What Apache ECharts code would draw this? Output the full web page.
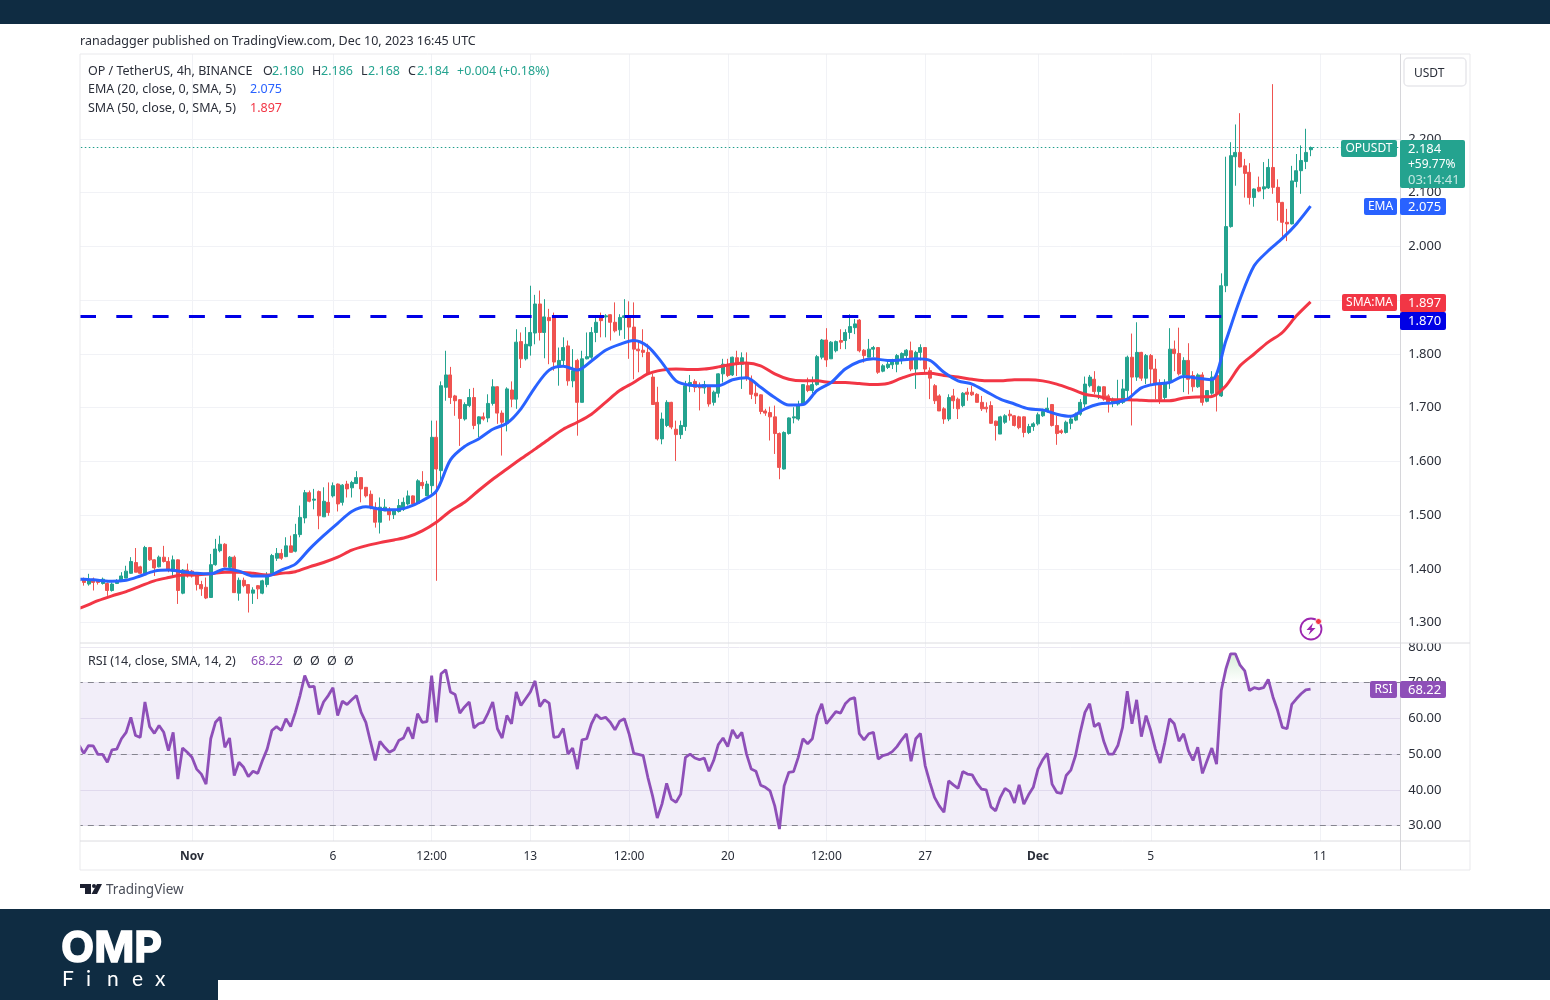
<!DOCTYPE html>
<html>
<head>
<meta charset="utf-8">
<title>OPUSDT 4h</title>
<style>
html, body {margin: 0; padding: 0; background: #fff;}
#contain {width: 1550px; height: 1000px;}
</style>
<script src="https://cdn.jsdelivr.net/npm/echarts@6/dist/echarts.min.js"></script>
</head>
<body>
<div id="contain"></div>
<script>
// one row per 4h bar: open, close, low, high
var candles = [
[1.380,1.378,1.374,1.383],
[1.381,1.375,1.369,1.384],[1.372,1.379,1.369,1.391],[1.381,1.375,1.360,1.384],[1.379,1.375,1.371,1.381],[1.373,1.381,1.371,1.384],
[1.373,1.360,1.350,1.375],[1.360,1.372,1.358,1.375],[1.373,1.378,1.372,1.381],[1.378,1.387,1.377,1.394],[1.383,1.396,1.383,1.406],
[1.392,1.414,1.391,1.422],[1.412,1.394,1.394,1.439],[1.404,1.392,1.391,1.406],[1.389,1.440,1.387,1.443],[1.440,1.417,1.415,1.441],
[1.417,1.402,1.387,1.418],[1.404,1.422,1.403,1.425],[1.422,1.414,1.412,1.443],[1.414,1.397,1.394,1.422],[1.396,1.417,1.384,1.425],
[1.417,1.360,1.335,1.418],[1.355,1.398,1.353,1.400],[1.398,1.387,1.384,1.410],[1.396,1.387,1.384,1.398],[1.389,1.371,1.360,1.391],
[1.371,1.363,1.350,1.378],[1.366,1.346,1.344,1.384],[1.347,1.408,1.346,1.428],[1.408,1.437,1.406,1.456],[1.434,1.446,1.431,1.462],
[1.446,1.404,1.403,1.448],[1.403,1.422,1.400,1.424],[1.422,1.356,1.356,1.425],[1.355,1.379,1.341,1.384],[1.379,1.369,1.366,1.384],
[1.371,1.355,1.319,1.372],[1.355,1.361,1.335,1.366],[1.369,1.363,1.344,1.370],[1.355,1.378,1.353,1.380],[1.371,1.389,1.366,1.394],
[1.391,1.425,1.387,1.428],[1.420,1.429,1.415,1.439],[1.429,1.420,1.417,1.437],[1.423,1.443,1.422,1.459],[1.443,1.431,1.431,1.462],
[1.433,1.464,1.431,1.484],[1.464,1.496,1.459,1.518],[1.495,1.542,1.485,1.547],[1.542,1.526,1.524,1.546],[1.528,1.530,1.511,1.549],
[1.544,1.499,1.474,1.546],[1.497,1.526,1.497,1.552],[1.524,1.505,1.499,1.561],[1.536,1.555,1.533,1.561],[1.558,1.521,1.507,1.559],
[1.524,1.556,1.518,1.558],[1.558,1.549,1.533,1.564],[1.551,1.561,1.533,1.564],[1.559,1.570,1.558,1.582],[1.570,1.549,1.524,1.570],
[1.552,1.536,1.533,1.552],[1.539,1.515,1.511,1.546],[1.511,1.487,1.477,1.524],[1.487,1.515,1.466,1.533],[1.508,1.515,1.508,1.530],
[1.511,1.501,1.490,1.515],[1.501,1.508,1.493,1.511],[1.507,1.518,1.505,1.530],[1.511,1.524,1.508,1.533],[1.521,1.536,1.518,1.546],
[1.536,1.521,1.521,1.537],[1.522,1.564,1.521,1.567],[1.561,1.555,1.549,1.582],[1.536,1.558,1.536,1.564],[1.555,1.645,1.540,1.676],
[1.645,1.586,1.378,1.676],[1.583,1.741,1.560,1.749],[1.738,1.761,1.713,1.806],[1.761,1.719,1.707,1.776],[1.722,1.713,1.685,1.724],
[1.715,1.680,1.629,1.716],[1.679,1.706,1.676,1.710],[1.704,1.719,1.701,1.735],[1.719,1.667,1.660,1.737],[1.670,1.683,1.645,1.684],
[1.683,1.679,1.676,1.691],[1.681,1.708,1.673,1.725],[1.708,1.739,1.704,1.753],[1.739,1.690,1.670,1.740],[1.690,1.673,1.611,1.695],
[1.671,1.735,1.656,1.738],[1.733,1.716,1.701,1.749],[1.716,1.822,1.698,1.846],[1.823,1.791,1.774,1.840],[1.791,1.818,1.788,1.850],
[1.815,1.840,1.797,1.927],[1.839,1.893,1.818,1.910],[1.893,1.840,1.825,1.918],[1.840,1.869,1.792,1.902],[1.868,1.862,1.781,1.884],
[1.871,1.785,1.769,1.877],[1.776,1.788,1.741,1.812],[1.788,1.812,1.778,1.831],[1.815,1.750,1.741,1.825],[1.750,1.769,1.738,1.809],
[1.788,1.710,1.648,1.791],[1.710,1.791,1.710,1.806],[1.791,1.795,1.790,1.840],[1.794,1.840,1.791,1.850],[1.840,1.859,1.822,1.871],
[1.871,1.862,1.831,1.877],[1.869,1.871,1.831,1.874],[1.873,1.859,1.825,1.874],[1.859,1.843,1.840,1.896],[1.845,1.868,1.834,1.874],
[1.868,1.871,1.828,1.902],[1.871,1.850,1.791,1.898],[1.850,1.809,1.753,1.896],[1.809,1.806,1.766,1.825],[1.807,1.803,1.794,1.846],
[1.803,1.764,1.763,1.819],[1.757,1.706,1.706,1.763],[1.710,1.642,1.639,1.739],[1.642,1.679,1.632,1.691],[1.667,1.710,1.664,1.714],
[1.710,1.664,1.660,1.711],[1.660,1.650,1.601,1.676],[1.650,1.667,1.642,1.676],[1.665,1.741,1.657,1.750],[1.741,1.747,1.729,1.761],
[1.749,1.738,1.729,1.753],[1.739,1.737,1.695,1.747],[1.737,1.743,1.726,1.750],[1.741,1.707,1.702,1.742],[1.710,1.729,1.704,1.732],
[1.727,1.763,1.719,1.764],[1.763,1.781,1.747,1.791],[1.778,1.760,1.757,1.791],[1.761,1.794,1.759,1.795],[1.793,1.781,1.759,1.806],
[1.781,1.793,1.735,1.803],[1.784,1.757,1.750,1.803],[1.753,1.725,1.716,1.760],[1.727,1.722,1.707,1.747],[1.724,1.693,1.688,1.725],
[1.694,1.690,1.685,1.698],[1.691,1.683,1.639,1.702],[1.683,1.652,1.614,1.704],[1.652,1.589,1.567,1.654],[1.586,1.654,1.585,1.656],
[1.652,1.681,1.650,1.682],[1.681,1.683,1.671,1.701],[1.679,1.704,1.676,1.713],[1.706,1.743,1.704,1.744],[1.741,1.732,1.729,1.756],
[1.732,1.743,1.727,1.758],[1.743,1.795,1.741,1.798],[1.794,1.826,1.790,1.828],[1.826,1.789,1.776,1.848],[1.791,1.822,1.791,1.824],
[1.806,1.823,1.803,1.825],[1.825,1.822,1.809,1.846],[1.825,1.840,1.809,1.846],[1.840,1.851,1.828,1.874],[1.849,1.856,1.837,1.865],
[1.863,1.806,1.803,1.865],[1.807,1.797,1.784,1.809],[1.794,1.809,1.794,1.828],[1.809,1.812,1.794,1.815],[1.812,1.766,1.763,1.813],
[1.768,1.778,1.766,1.781],[1.775,1.781,1.772,1.788],[1.780,1.788,1.772,1.791],[1.781,1.797,1.766,1.800],[1.791,1.801,1.781,1.803],
[1.797,1.807,1.791,1.809],[1.806,1.772,1.768,1.823],[1.772,1.803,1.735,1.806],[1.803,1.812,1.788,1.818],[1.812,1.772,1.766,1.813],
[1.769,1.755,1.716,1.775],[1.741,1.713,1.707,1.744],[1.722,1.694,1.694,1.725],[1.698,1.679,1.670,1.701],[1.679,1.719,1.675,1.725],
[1.722,1.713,1.698,1.735],[1.716,1.698,1.679,1.719],[1.704,1.727,1.701,1.729],[1.729,1.725,1.713,1.737],[1.729,1.724,1.722,1.741],
[1.725,1.710,1.710,1.727],[1.710,1.698,1.694,1.722],[1.701,1.698,1.691,1.710],[1.704,1.671,1.670,1.712],[1.675,1.667,1.639,1.676],
[1.651,1.683,1.651,1.685],[1.673,1.685,1.670,1.688],[1.688,1.685,1.676,1.696],[1.685,1.667,1.665,1.686],[1.683,1.663,1.660,1.685],
[1.683,1.654,1.645,1.684],[1.654,1.665,1.651,1.670],[1.665,1.670,1.657,1.673],[1.670,1.687,1.667,1.691],[1.685,1.693,1.683,1.698],
[1.694,1.699,1.691,1.719],[1.706,1.667,1.665,1.707],[1.667,1.652,1.631,1.685],[1.657,1.654,1.651,1.660],[1.654,1.673,1.652,1.676],
[1.671,1.679,1.660,1.683],[1.677,1.688,1.675,1.691],[1.688,1.710,1.685,1.716],[1.707,1.744,1.701,1.758],[1.741,1.757,1.738,1.761],
[1.753,1.730,1.725,1.768],[1.730,1.739,1.716,1.741],[1.739,1.716,1.713,1.740],[1.722,1.710,1.691,1.725],[1.710,1.716,1.701,1.719],
[1.707,1.713,1.704,1.752],[1.710,1.735,1.707,1.753],[1.732,1.794,1.716,1.797],[1.794,1.757,1.667,1.838],[1.757,1.803,1.750,1.859],
[1.803,1.755,1.750,1.804],[1.755,1.797,1.744,1.800],[1.797,1.772,1.741,1.800],[1.772,1.744,1.716,1.791],[1.744,1.716,1.707,1.753],
[1.719,1.747,1.713,1.753],[1.750,1.809,1.735,1.848],[1.809,1.801,1.768,1.825],[1.801,1.763,1.760,1.849],[1.761,1.788,1.729,1.794],
[1.788,1.753,1.725,1.820],[1.760,1.739,1.730,1.768],[1.739,1.761,1.737,1.764],[1.761,1.710,1.704,1.766],[1.712,1.732,1.710,1.733],
[1.727,1.757,1.724,1.768],[1.760,1.727,1.693,1.766],[1.722,1.927,1.720,1.950],[1.927,2.037,1.915,2.167],[2.037,2.169,2.035,2.194],
[2.167,2.175,2.113,2.227],[2.175,2.148,2.147,2.248],[2.150,2.136,2.091,2.163],[2.138,2.091,2.078,2.155],[2.091,2.107,2.074,2.108],
[2.110,2.103,2.101,2.130],[2.107,2.111,2.088,2.157],[2.109,2.147,2.107,2.163],[2.147,2.110,2.098,2.302],[2.110,2.082,2.048,2.125],
[2.082,2.045,2.017,2.083],[2.045,2.042,2.010,2.070],[2.042,2.122,2.041,2.150],[2.121,2.141,2.110,2.172],[2.141,2.160,2.098,2.188],
[2.158,2.175,2.144,2.219],[2.180,2.184,2.168,2.186]
];

var lineStep = 3;
var emaFirst = 1.381, smaFirst = 1.327;
var emaValues = [
1.381,1.379,1.377,1.379,1.387,1.396,1.398,1.395,1.392,1.391,1.400,1.396,1.387,1.387,1.398,1.409,1.437,1.462,1.485,1.507,
1.516,1.511,1.510,1.515,1.527,1.545,1.603,1.628,1.642,1.660,1.671,1.698,1.738,1.770,1.777,1.770,1.787,1.807,1.818,1.825,
1.814,1.784,1.750,1.742,1.741,1.741,1.752,1.756,1.738,1.719,1.705,1.706,1.732,1.747,1.772,1.786,1.791,1.788,1.789,1.791,
1.788,1.766,1.750,1.744,1.730,1.716,1.707,1.698,1.696,1.688,1.684,1.698,1.707,1.709,1.716,1.737,1.744,1.747,1.758,1.755,
1.752,1.825,1.902,1.964,1.992,2.015,2.042,2.075
];
var smaValues = [
1.330,1.341,1.350,1.358,1.368,1.378,1.384,1.389,1.389,1.391,1.394,1.394,1.392,1.389,1.392,1.395,1.404,1.412,1.422,1.435,
1.443,1.449,1.454,1.460,1.471,1.487,1.508,1.524,1.546,1.567,1.586,1.605,1.623,1.642,1.660,1.673,1.688,1.710,1.732,1.747,
1.763,1.770,1.772,1.771,1.772,1.776,1.781,1.783,1.778,1.763,1.753,1.750,1.750,1.747,1.747,1.745,1.743,1.745,1.755,1.763,
1.764,1.760,1.757,1.753,1.750,1.750,1.752,1.752,1.750,1.744,1.735,1.725,1.721,1.715,1.715,1.714,1.713,1.713,1.718,1.720,
1.721,1.741,1.778,1.800,1.822,1.840,1.871,1.897
];
var rsiValues = [
52.4,50.2,52.4,52.3,49.9,49.9,47.7,51.2,51.4,54.3,56.1,60.3,55.2,54.7,64.6,57.7,55.8,58.0,56.1,51.0,56.1,
43.0,51.7,50.5,49.1,45.8,44.4,41.6,54.3,58.9,60.3,51.9,54.5,44.0,47.7,46.3,43.7,45.2,44.6,48.2,51.4,
56.6,57.7,56.6,59.9,57.7,61.7,66.4,72.0,68.8,69.0,61.1,64.6,66.4,68.6,60.8,64.8,63.9,65.2,66.4,61.7,
58.9,53.4,48.2,53.6,51.9,50.5,51.2,53.8,54.5,57.5,54.3,61.3,58.9,59.1,72.0,58.9,72.5,73.6,67.4,66.7,
61.5,63.2,64.6,57.3,58.5,58.9,61.5,64.6,57.1,54.5,60.8,58.5,67.4,63.6,65.5,67.4,70.5,63.3,65.2,64.3,
54.7,54.9,57.2,50.0,51.7,45.8,54.0,54.3,58.5,61.1,59.9,60.3,58.9,56.8,59.2,59.9,55.7,50.2,49.9,49.6,
43.5,38.3,32.1,36.0,41.8,37.4,36.5,38.8,49.1,50.0,48.9,48.4,48.9,45.2,48.2,52.7,54.5,52.1,56.8,54.5,
56.1,50.0,45.8,45.2,41.3,40.7,39.7,35.5,29.0,41.1,44.9,45.1,49.1,54.3,52.9,54.3,60.8,64.1,58.5,60.2,
61.9,61.5,64.1,65.4,65.8,55.7,54.0,55.7,56.1,48.6,49.6,49.9,50.7,52.1,54.0,55.7,48.0,54.3,55.8,46.8,
42.1,37.9,35.5,33.7,42.5,41.4,40.4,45.1,44.4,44.2,41.9,40.2,40.0,35.2,34.1,37.9,40.4,39.5,36.3,41.4,
36.0,38.6,40.7,45.8,48.4,50.2,41.6,39.3,39.0,44.0,45.5,49.6,56.1,61.7,64.1,57.7,58.7,53.6,50.0,50.0,
52.4,57.5,67.6,58.5,65.2,54.9,60.8,56.6,51.4,47.5,53.3,59.9,58.5,53.6,55.7,51.0,48.2,51.9,44.6,48.2,
51.7,47.2,67.8,73.9,78.1,78.1,74.9,73.3,67.8,68.6,68.3,68.6,70.9,66.0,62.2,57.5,57.1,63.9,65.5,66.9,
68.0,68.22
];

var priceTicks = [1.3, 1.4, 1.5, 1.6, 1.7, 1.8, 1.9, 2.0, 2.1, 2.2];
var rsiTicks = [30, 40, 50, 60, 70, 80];
var rsiLevels = [70, 50, 30];
var lastClose = 2.184;
var breakoutLevel = 1.870;

// time axis, 4h bars, runs on past the last candle
var barCount = 282;
var firstBar = Date.UTC(2023, 9, 28, 0);
var timeLabels = {
    '2023-11-01T00': 'Nov', '2023-11-06T00': '6', '2023-11-09T12': '12:00', '2023-11-13T00': '13',
    '2023-11-16T12': '12:00', '2023-11-20T00': '20', '2023-11-23T12': '12:00', '2023-11-27T00': '27',
    '2023-12-01T00': 'Dec', '2023-12-05T00': '5', '2023-12-11T00': '11'
};
var categories = [];
for (var b = 0; b < barCount; b++) {
    categories.push(new Date(firstBar + b * 4 * 3600000).toISOString().slice(0, 13));
}

var FONT = 'Noto Sans';
var LEGEND = 12.5;
var GREEN = '#24a38f', RED = '#ef5350', BLUE = '#2962ff', MARK = '#f23645', PURPLE = '#8e4fb8', TEXT = '#2a2e39', NAVY = '#0f2c42';

function isTick(index, value) {
    return timeLabels[value] !== undefined;
}

// Noto sits a little high with middle alignment, hence the nudge
function label(x, y, text, color, size, opts) {
    opts = opts || {};
    var style = {
        text: text, fill: color, font: (opts.weight || 'normal') + ' ' + size + 'px "' + (opts.family || FONT) + '"',
        align: opts.align || 'left', verticalAlign: 'middle'
    };
    if (opts.stroke) {
        style.stroke = color;
        style.lineWidth = opts.stroke;
    }
    return {type: 'text', x: x, y: opts.family ? y : y + 1.5, z: opts.z || 50, silent: true, style: style};
}

function box(x, y, w, h, color, z, r) {
    return {type: 'rect', z: z || 40, silent: true, shape: {x: x, y: y, width: w, height: h, r: r || 0}, style: {fill: color}};
}

function rule(x1, y1, x2, y2, color) {
    return {type: 'line', z: 41, silent: true, shape: {x1: x1, y1: y1, x2: x2, y2: y2}, style: {stroke: color, lineWidth: 1}};
}

var graphics = [
    // page furniture
    box(0, 0, 1550, 24, NAVY),
    box(0, 909, 1550, 91, NAVY),
    box(218, 980, 1332, 20, '#ffffff', 41),
    box(70, 54, 10, 787, '#ffffff', 39),
    box(1401, 644, 3, 196, '#ffffff', 39),
    box(1401, 55, 3, 587, '#ffffff', 39),
    box(1402, 636, 66, 7, '#ffffff', 39),
    rule(80, 54, 1470, 54, '#e9e9ec'),
    rule(80, 54, 80, 870, '#e9e9ec'),
    rule(1470, 54, 1470, 870, '#e9e9ec'),
    rule(80, 870, 1470, 870, '#e9e9ec'),
    rule(80, 643, 1470, 643, '#dcdce0'),
    rule(80, 841, 1470, 841, '#dcdce0'),
    rule(1400.5, 54, 1400.5, 870, '#d6d6da'),
    label(80, 40, 'ranadagger published on TradingView.com, Dec 10, 2023 16:45 UTC', TEXT, LEGEND),

    // legend
    label(88, 70, 'OP / TetherUS, 4h, BINANCE', TEXT, LEGEND),
    label(263, 70, 'O', TEXT, LEGEND), label(272, 70, '2.180', GREEN, LEGEND),
    label(312, 70, 'H', TEXT, LEGEND), label(321, 70, '2.186', GREEN, LEGEND),
    label(361, 70, 'L', TEXT, LEGEND), label(368, 70, '2.168', GREEN, LEGEND),
    label(408, 70, 'C', TEXT, LEGEND), label(417, 70, '2.184', GREEN, LEGEND),
    label(457, 70, '+0.004 (+0.18%)', GREEN, LEGEND),
    label(88, 88, 'EMA (20, close, 0, SMA, 5)', TEXT, LEGEND), label(250, 88, '2.075', BLUE, LEGEND),
    label(88, 107, 'SMA (50, close, 0, SMA, 5)', TEXT, LEGEND), label(250, 107, '1.897', MARK, LEGEND),
    label(88, 660, 'RSI (14, close, SMA, 14, 2)', TEXT, LEGEND), label(251, 660, '68.22', PURPLE, LEGEND),
    label(293, 660, 'Ø', TEXT, LEGEND), label(310, 660, 'Ø', TEXT, LEGEND), label(327, 660, 'Ø', TEXT, LEGEND), label(344, 660, 'Ø', TEXT, LEGEND),

    // currency button
    {type: 'rect', z: 45, silent: true, shape: {x: 1404, y: 58, width: 62, height: 28, r: 4}, style: {fill: '#fff', stroke: '#e8e8ec', lineWidth: 1.5}},
    label(1414, 72.5, 'USDT', TEXT, 12, {z: 46}),

    // price tags
    box(1341, 140, 56, 17, GREEN, 45, 2), label(1369, 147.5, 'OPUSDT', '#fff', 12, {align: 'center', z: 46}),
    box(1400, 140, 65, 48, GREEN, 45, 2),
    label(1408, 147.5, '2.184', '#fff', 13, {z: 46}),
    label(1408, 163.5, '+59.77%', '#fff', 12, {z: 46}),
    label(1408, 179, '03:14:41', '#c4e8e2', 13, {z: 46}),
    box(1364, 198, 33, 17, BLUE, 45, 2), label(1380.5, 205.5, 'EMA', '#fff', 12, {align: 'center', z: 46}),
    box(1400, 198, 46, 17, BLUE, 45, 2), label(1408, 205.5, '2.075', '#fff', 13, {z: 46}),
    box(1342, 294, 55, 17, MARK, 45, 2), label(1369.5, 301.5, 'SMA:MA', '#fff', 12, {align: 'center', z: 46}),
    box(1400, 294, 46, 18, MARK, 45, 2), label(1408, 301.5, '1.897', '#fff', 13, {z: 46}),
    box(1400, 312, 46, 18, '#0000e6', 45, 2), label(1408, 320, '1.870', '#fff', 13, {z: 46}),
    box(1370, 681, 27, 17, PURPLE, 45, 2), label(1383.5, 688.5, 'RSI', '#fff', 12, {align: 'center', z: 46}),
    box(1400, 681, 46, 17, PURPLE, 45, 2), label(1408, 688.5, '68.22', '#fff', 13, {z: 46}),

    // data-window flash icon
    {type: 'circle', z: 45, silent: true, shape: {cx: 1311, cy: 629, r: 10.5}, style: {fill: '#fff', stroke: '#9c27b0', lineWidth: 1.8}},
    {type: 'polygon', z: 46, silent: true, shape: {points: [[1313, 623], [1306.5, 630], [1310.5, 630], [1308.5, 635], [1315.5, 628], [1311.5, 628]]}, style: {fill: '#9c27b0'}},
    {type: 'circle', z: 47, silent: true, shape: {cx: 1318.5, cy: 621.5, r: 3}, style: {fill: '#f23645', stroke: '#fff', lineWidth: 0.8}},

    // TradingView mark
    {type: 'polygon', z: 45, silent: true, shape: {points: [[80, 884], [91, 884], [91, 894], [85, 894], [85, 888], [80, 888]]}, style: {fill: '#1c2030'}},
    {type: 'circle', z: 45, silent: true, shape: {cx: 94, cy: 886, r: 2}, style: {fill: '#1c2030'}},
    {type: 'polygon', z: 45, silent: true, shape: {points: [[91.5, 894], [97, 884], [102, 884], [97, 894]]}, style: {fill: '#1c2030'}},
    label(106, 888.5, 'TradingView', '#4a4e59', 13.5),

    // OMP Finex logo
    label(61, 949, 'OMP', '#ffffff', 43, {weight: 'bold', family: 'Inter', z: 46, stroke: 1.5}),
    label(62, 979.5, 'F', '#ffffff', 21, {family: 'Lato', z: 46}),
    label(86, 979.5, 'i', '#ffffff', 21, {family: 'Lato', z: 46}),
    label(107, 979.5, 'n', '#ffffff', 21, {family: 'Lato', z: 46}),
    label(132, 979.5, 'e', '#ffffff', 21, {family: 'Lato', z: 46}),
    label(155, 979.5, 'x', '#ffffff', 21, {family: 'Lato', z: 46})
];

function sampled(first, values) {
    var points = [[0, first]];
    for (var i = 0; i < values.length; i++) {
        points.push([i * lineStep + 1, values[i]]);
    }
    return points;
}

// precision has to be set or markLine rounds the level to two decimals
function hLine(value, color, width, type, offset) {
    return {yAxis: value, lineStyle: {color: color, width: width, type: type, dashOffset: offset || 0}};
}

var gridLine = {show: true, alignWithLabel: true, interval: isTick, lineStyle: {color: '#f1f2f6', width: 1}};

var myChart = echarts.init(document.getElementById('contain'), null, {renderer: 'canvas'});
var option = {
    animation: false,
    backgroundColor: '#ffffff',
    textStyle: {fontFamily: FONT},
    grid: [
        {left: 76.8, top: 54, width: 1325.4, height: 589},
        {left: 76.8, top: 643, width: 1325.4, height: 198}
    ],
    xAxis: [
        {
            type: 'category',
            data: categories,
            axisTick: {show: false},
            axisLabel: {show: false},
            axisLine: {show: false},
            splitLine: gridLine
        },
        {
            type: 'category',
            gridIndex: 1,
            data: categories,
            axisTick: {show: false},
            axisLine: {show: false},
            axisLabel: {
                interval: isTick,
                margin: 10,
                fontSize: 12,
                color: TEXT,
                hideOverlap: false,
                formatter: function (value) {
                    var text = timeLabels[value];
                    return text == 'Nov' || text == 'Dec' ? '{month|' + text + '}' : text;
                },
                rich: {month: {fontWeight: 'bold', fontSize: 12, color: TEXT}}
            },
            splitLine: gridLine
        }
    ],
    yAxis: [
        {
            type: 'value',
            position: 'right',
            min: 1.2623,
            max: 2.3581,
            axisLine: {show: false},
            axisTick: {show: false, customValues: priceTicks},
            axisLabel: {
                customValues: priceTicks, margin: 6, fontSize: 13, color: TEXT, padding: [5, 0, 0, 0],
                formatter: function (v) { return v.toFixed(3); }
            },
            splitLine: {show: true, lineStyle: {color: '#f1f2f6'}}
        },
        {
            type: 'value',
            gridIndex: 1,
            position: 'right',
            min: 25.66,
            max: 81.12,
            axisLine: {show: false},
            axisTick: {show: false, customValues: rsiTicks},
            axisLabel: {
                customValues: rsiTicks, margin: 6, fontSize: 13, color: TEXT, padding: [4, 0, 0, 0],
                formatter: function (v) { return v.toFixed(2); }
            },
            splitLine: {show: true, lineStyle: {color: '#ebe8f2'}}
        }
    ],
    graphic: graphics,
    series: [
        {
            name: 'OPUSDT',
            type: 'candlestick',
            data: candles,
            barWidth: 3.5,
            z: 3,
            itemStyle: {color: GREEN, color0: RED, borderColor: GREEN, borderColor0: RED, borderWidth: 1}
        },
        {
            name: 'EMA',
            type: 'line',
            data: sampled(emaFirst, emaValues),
            smooth: 0.3,
            symbol: 'none',
            z: 5,
            lineStyle: {color: BLUE, width: 3},
            markLine: {
                silent: true, symbol: 'none', animation: false, label: {show: false}, z: 2, precision: 3,
                data: [hLine(lastClose, '#1f9f8b', 1.2, [1.5, 2.5])]
            }
        },
        {
            name: 'SMA',
            type: 'line',
            data: sampled(smaFirst, smaValues),
            smooth: 0.3,
            symbol: 'none',
            z: 4,
            lineStyle: {color: MARK, width: 3},
            markLine: {
                silent: true, symbol: 'none', animation: false, label: {show: false}, z: 6, precision: 3,
                data: [hLine(breakoutLevel, '#0000e6', 3, [16, 20.3], 33.1)]
            }
        },
        {
            name: 'RSI',
            type: 'line',
            xAxisIndex: 1,
            yAxisIndex: 1,
            data: rsiValues,
            symbol: 'none',
            z: 5,
            lineStyle: {color: PURPLE, width: 2.8},
            markArea: {
                silent: true,
                itemStyle: {color: 'rgba(126,87,194,0.1)'},
                data: [[{yAxis: rsiLevels[0]}, {yAxis: rsiLevels[2]}]]
            },
            markLine: {
                silent: true, symbol: 'none', animation: false, label: {show: false},
                data: rsiLevels.map(function (v) { return hLine(v, '#85858f', 1, [6, 5]); })
            }
        },
        {
            // overbought fill above the 70 line
            name: 'RSI overbought',
            type: 'line',
            xAxisIndex: 1,
            yAxisIndex: 1,
            data: rsiValues.map(function (v) { return Math.max(v, rsiLevels[0]); }),
            symbol: 'none',
            z: 4,
            lineStyle: {width: 0},
            areaStyle: {
                origin: rsiLevels[0],
                color: new echarts.graphic.LinearGradient(0, 0, 0, 1, [
                    {offset: 0, color: 'rgba(76,175,80,0.3)'},
                    {offset: 1, color: 'rgba(76,175,80,0)'}
                ])
            }
        }
    ]
};
myChart.setOption(option);
</script>
</body>
</html>
